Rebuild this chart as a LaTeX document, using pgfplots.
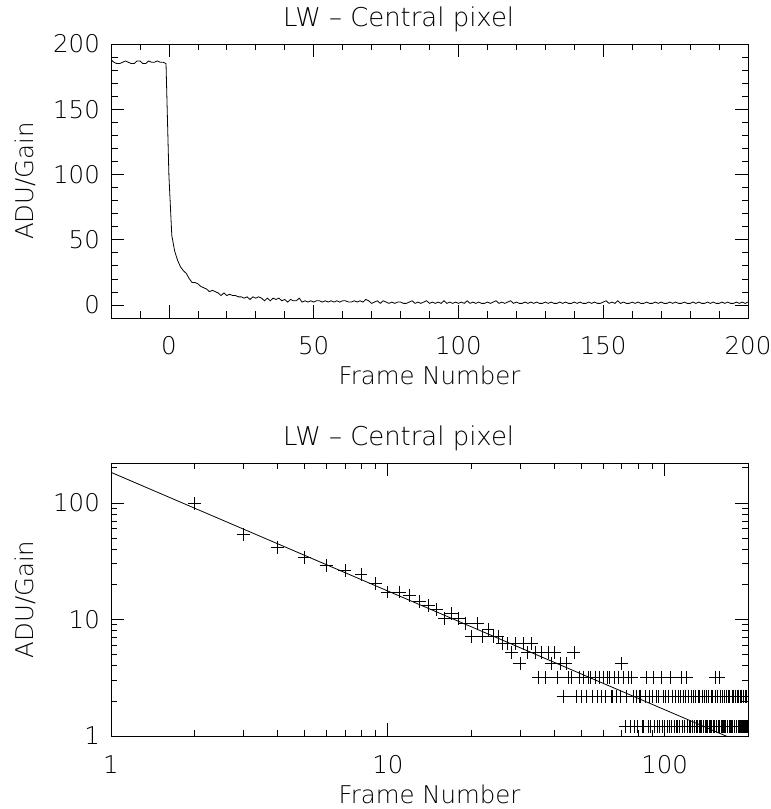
\documentclass[border=0pt]{standalone}
\usepackage{fontspec}
\setmainfont{DejaVuSans-ExtraLight.ttf}
\usepackage{pgfplots}
\pgfplotsset{compat=1.18}
\usepackage{pgfplotstable}

% bottom-panel frame numbering (top panel frame = f - 2)
\pgfplotstableread{
f v
2 99.2
3 53.2
4 41.2
5 34.2
6 29.2
7 26.2
8 24.2
9 20.2
10 17.2
11 17.2
12 16.2
13 14.2
14 13.2
15 12.2
16 10.2
17 11.2
18 10.2
19 9.2
20 7.2
21 9.2
22 7.2
23 8.2
24 7.2
25 7.2
26 6.2
27 6.2
28 5.2
29 6.2
30 4.2
31 6.2
32 5.2
33 6.2
34 5.2
35 3.2
36 5.2
37 3.2
38 5.2
39 4.2
40 5.2
41 3.2
42 4.2
43 2.2
44 4.2
45 3.2
46 3.2
47 5.2
48 2.2
49 3.2
50 2.2
51 3.2
52 2.2
53 3.2
54 3.2
55 2.2
56 3.2
57 2.2
58 3.2
59 2.2
60 3.2
61 2.2
62 3.2
63 3.2
64 2.2
65 2.2
66 3.2
67 2.2
68 3.2
69 2.2
70 4.2
71 3.2
72 1.2
73 2.2
74 3.2
75 1.2
76 3.2
77 2.2
78 1.2
79 2.2
80 1.2
81 2.2
82 2.2
83 1.2
84 1.2
85 2.2
86 3.2
87 1.2
88 2.2
89 1.2
90 2.2
91 3.2
92 1.2
93 2.2
94 1.2
95 2.2
96 1.2
97 3.2
98 1.2
99 2.2
100 1.2
101 2.2
102 1.2
103 2.2
104 1.2
105 3.2
106 1.2
107 2.2
108 1.2
109 2.2
110 1.2
111 1.2
112 2.2
113 1.2
114 2.2
115 3.2
116 1.2
117 2.2
118 1.2
119 2.2
120 3.2
121 1.2
122 2.2
123 1.2
124 1.2
125 2.2
126 1.2
127 2.2
128 1.2
129 2.2
130 1.2
131 1.2
132 2.2
133 1.2
134 2.2
135 1.2
136 1.2
137 2.2
138 1.2
139 2.2
140 1.2
141 1.2
142 2.2
143 1.2
144 2.2
145 1.2
146 1.2
147 2.2
148 1.2
149 2.2
150 1.2
151 1.2
152 2.2
153 3.2
154 1.2
155 2.2
156 1.2
157 3.2
158 1.2
159 2.2
160 1.2
161 1.2
162 2.2
163 1.2
164 2.2
165 1.2
166 1.2
167 2.2
168 1.2
169 1.2
170 2.2
171 1.2
172 2.2
173 1.2
174 1.2
175 2.2
176 1.2
177 2.2
178 1.2
179 1.2
180 2.2
181 1.2
182 1.2
183 2.2
184 1.2
185 2.2
186 1.2
187 1.2
188 2.2
189 1.2
190 2.2
191 1.2
192 1.2
193 2.2
194 1.2
195 2.2
196 1.2
197 1.2
198 2.2
199 1.2
200 2.2
201 1.2
202 2.2
}\decay

\pgfplotstableread{
t v
-20 188
-19 186
-18 185
-17 185
-16 186
-15 187
-14 186
-13 185
-12 185
-11 187
-10 187
-9 185
-8 185
-7 187
-6 186
-5 186
-4 187
-3 186
-2 186
-1 185
0 99.2
}\plateau

\pgfplotsset{
  idl/.style={
    scale only axis,
    width=637bp,
    axis line style={line width=0.9pt},
    every tick/.style={black, line width=0.7pt},
    major tick length=13bp,
    minor tick length=6.5bp,
    tick align=inside,
    xtick pos=both, ytick pos=both,
    tick label style={font=\fontsize{24.5}{29}\selectfont, inner sep=0pt},
    xticklabel style={anchor=base, yshift=-37bp},
    yticklabel style={anchor=east, xshift=-11bp},
    title style={at={(axis description cs:0,1)}, anchor=base west, inner sep=0pt,
                 xshift=172bp, yshift=12bp, font=\fontsize{26}{31}\selectfont},
    xlabel style={at={(axis description cs:0.5,0)}, anchor=base, inner sep=0pt,
                  yshift=-67bp, font=\fontsize{24.5}{29}\selectfont},
    ylabel style={at={(axis description cs:0,0.5)}, anchor=center, inner sep=0pt,
                  rotate=0, yshift=86bp, font=\fontsize{24.5}{29}\selectfont},
  }
}

\begin{document}
\begin{tikzpicture}
\begin{axis}[idl,
  at={(111bp,491bp)}, anchor=south west,
  height=274bp,
  xmin=-20, xmax=200, ymin=-10, ymax=200,
  xtick={0,50,100,150,200}, xticklabels={0,50,100,150,200},
  ytick={0,50,100,150,200}, yticklabels={0,50,100,150,200},
  minor xtick={-10,0,...,200},
  minor ytick={0,10,...,200},
  title={LW – Central pixel},
  xlabel={Frame Number},
  ylabel={ADU/Gain},
]
\addplot[black, line width=0.8pt, no marks] table[x=t, y=v] {\plateau};
\addplot[black, line width=0.8pt, no marks] table[x expr=\thisrow{f}-2, y=v] {\decay};
\end{axis}

\begin{axis}[idl,
  at={(111bp,73bp)}, anchor=south west,
  height=273bp,
  xmode=log, ymode=log,
  xmin=1, xmax=200, ymin=1, ymax=220,
  xtick={1,10,100}, xticklabels={1,10,100},
  ytick={1,10,100}, yticklabels={1,10,100},
  minor xtick={2,3,4,5,6,7,8,9,20,30,40,50,60,70,80,90,200},
  minor ytick={2,3,4,5,6,7,8,9,20,30,40,50,60,70,80,90,200},
  clip marker paths=true,
  title={LW – Central pixel},
  xlabel={Frame Number},
  ylabel={ADU/Gain},
]
\addplot[black, only marks, mark=+, mark size=6.5pt, line width=0.8pt,
  skip coords between index={199}{201}] table[x=f, y=v] {\decay};
\addplot[black, line width=0.8pt, no marks] coordinates {(1,183) (200,0.83)};
\end{axis}

\pgfresetboundingbox
\path[use as bounding box] (0,0) rectangle (771bp,809bp);
\end{tikzpicture}
\end{document}
